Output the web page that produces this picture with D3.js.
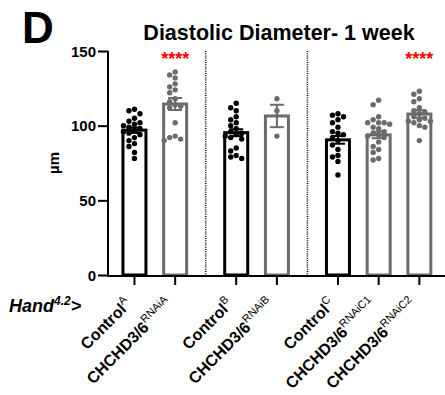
<!DOCTYPE html>
<html>
<head>
<meta charset="utf-8">
<script src="https://d3js.org/d3.v7.min.js"></script>
<style>
  body { margin: 0; background: #fff; }
  text { font-family: "Liberation Sans", Arial, sans-serif; }
</style>
</head>
<body>
<div id="chart"></div>
<script>
// ---- data ----
var labels = ["Control", "CHCHD3/6", "Control", "CHCHD3/6", "Control", "CHCHD3/6", "CHCHD3/6"];
var supers = ["A", "RNAiA", "B", "RNAiB", "C", "RNAiC1", "RNAiC2"];
var groupOf = [0, 0, 1, 1, 2, 2, 2];
var isControl = [true, false, true, false, true, false, false];
var means = [97, 114.5, 95.3, 106.5, 90.5, 93.8, 107.8];
var sems = [1.8, 4, 2.3, 7.5, 2.6, 2.2, 2.5];
var stars = ["", "****", "", "", "", "", "****"];
var points = [
  [111, 110, 108, 105, 103, 102, 101, 100, 99, 98, 97, 96, 95, 94, 92, 90, 88, 86, 82, 78],
  [136, 134, 132, 128, 126, 124, 122, 118, 116, 114, 113, 112, 102, 93, 92, 91, 90],
  [115, 112, 110, 106, 104, 102, 100, 98, 96, 95, 94, 93, 92, 91, 85, 83, 80, 79, 78],
  [118, 110, 93],
  [108, 107, 106, 104, 102, 99, 96, 95, 94, 92, 90, 87, 84, 80, 79, 76, 67],
  [117, 114, 106, 104, 102, 102, 102, 101, 99, 98, 96, 95, 94, 93, 92, 89, 86, 84, 82, 78, 77],
  [123, 121, 118, 116, 112, 110, 109, 108, 106, 105, 104, 103, 103, 102, 100, 99, 90]
];
var yTicks = [0, 50, 100, 150];

var black = "#000", gray = "#6b6b6b";
var W = 445, H = 395;

var svg = d3.select("#chart").append("svg").attr("width", W).attr("height", H);

// x position index: bar index plus half a slot between groups
var pos = labels.map(function (d, i) { return i + 0.5 * groupOf[i]; });

var x = d3.scaleLinear().domain([-0.65, 7.63]).range([108, 445]);
var y = d3.scaleLinear().domain([0, 150]).range([275, 51]);

// panel letter + title
svg.append("text").attr("x", 22).attr("y", 43)
  .style("font-size", "44px").style("font-weight", "bold").text("D");
svg.append("text").attr("x", 279).attr("y", 40).attr("text-anchor", "middle")
  .style("font-size", "21.5px").style("font-weight", "bold")
  .text("Diastolic Diameter- 1 week");

// y axis
var yAxis = svg.append("g").attr("transform", "translate(108,0)")
  .call(d3.axisLeft(y).tickValues(yTicks).tickSize(10).tickPadding(2));
yAxis.select(".domain").attr("stroke-width", 2).attr("d", "M0," + y(150) + "V" + (y(0) + 1));
yAxis.selectAll(".tick line").attr("stroke-width", 2);
yAxis.selectAll(".tick text").style("font-size", "15px").style("font-weight", "bold")
  .style("font-family", "'Liberation Sans', Arial, sans-serif").attr("dy", "0.35em");

svg.append("text")
  .attr("transform", "translate(59," + ((y(0) + y(150)) / 2) + ") rotate(-90)")
  .attr("text-anchor", "middle").style("font-size", "15px").style("font-weight", "bold")
  .text("µm");

// group separators
[1, 2].forEach(function (g) {
  var a = pos[groupOf.indexOf(g) - 1], b = pos[groupOf.indexOf(g)];
  svg.append("line")
    .attr("x1", x((a + b) / 2)).attr("x2", x((a + b) / 2))
    .attr("y1", y(150)).attr("y2", y(0))
    .attr("stroke", black).attr("stroke-width", 1.5).attr("stroke-dasharray", "1,1.2");
});

// bars
var bw = 23;
svg.selectAll("rect.bar").data(means).enter().append("rect")
  .attr("class", "bar")
  .attr("x", function (d, i) { return x(pos[i]) - bw / 2; })
  .attr("y", function (d) { return y(d); })
  .attr("width", bw)
  .attr("height", function (d) { return y(0) - y(d); })
  .attr("fill", "none")
  .attr("stroke", function (d, i) { return isControl[i] ? black : gray; })
  .attr("stroke-width", 3);

// error bars (SEM)
means.forEach(function (m, i) {
  var c = isControl[i] ? black : gray, cx = x(pos[i]);
  var g = svg.append("g").attr("stroke", c).attr("stroke-width", 2);
  g.append("line").attr("x1", cx).attr("x2", cx).attr("y1", y(m - sems[i])).attr("y2", y(m + sems[i]));
  g.append("line").attr("x1", cx - 7).attr("x2", cx + 7).attr("y1", y(m + sems[i])).attr("y2", y(m + sems[i]));
  g.append("line").attr("x1", cx - 7).attr("x2", cx + 7).attr("y1", y(m - sems[i])).attr("y2", y(m - sems[i]));
});

// scatter points, simple beeswarm so close values sit side by side
var r = 2.7;
points.forEach(function (vals, i) {
  var cx = x(pos[i]), placed = [];
  vals.forEach(function (v) {
    var py = y(v), off = 0;
    var cands = [0, -5.5, 5.5, -11, 11, -16.5, 16.5];
    for (var k = 0; k < cands.length; k++) {
      var ok = placed.every(function (p) {
        var dx = p[0] - cands[k], dy = p[1] - py;
        return dx * dx + dy * dy >= (2 * r) * (2 * r);
      });
      if (ok) { off = cands[k]; break; }
    }
    placed.push([off, py]);
  });
  svg.append("g").selectAll("circle").data(placed).enter().append("circle")
    .attr("cx", function (p) { return cx + p[0]; })
    .attr("cy", function (p) { return p[1]; })
    .attr("r", r)
    .attr("fill", isControl[i] ? black : gray);
});

// significance stars
stars.forEach(function (s, i) {
  if (!s) return;
  svg.append("text").attr("x", x(pos[i])).attr("y", 65).attr("text-anchor", "middle")
    .attr("fill", "#ff0000").style("font-size", "18px").style("font-weight", "bold").text(s);
});

// x axis
svg.append("line").attr("x1", 107).attr("x2", 445).attr("y1", y(0) + 1).attr("y2", y(0) + 1)
  .attr("stroke", black).attr("stroke-width", 2);
pos.forEach(function (p) {
  svg.append("line").attr("x1", x(p)).attr("x2", x(p)).attr("y1", y(0) + 1).attr("y2", y(0) + 10)
    .attr("stroke", black).attr("stroke-width", 2);
});

// rotated category labels
labels.forEach(function (l, i) {
  var t = svg.append("text")
    .attr("transform", "translate(" + (x(pos[i]) - 2) + "," + (y(0) + 30) + ") rotate(-45)")
    .attr("text-anchor", "end");
  t.append("tspan").style("font-size", "16px").style("font-weight", "bold").text(l);
  t.append("tspan").attr("dy", "-7").style("font-size", "11px").text(supers[i]);
});

// genotype prefix
var h = svg.append("text").attr("x", 9).attr("y", 312)
  .style("font-weight", "bold").style("font-style", "italic");
h.append("tspan").style("font-size", "18px").text("Hand");
h.append("tspan").attr("dy", -7).style("font-size", "12px").text("4.2");
h.append("tspan").attr("dy", 7).style("font-size", "18px").text(">");
</script>
</body>
</html>
